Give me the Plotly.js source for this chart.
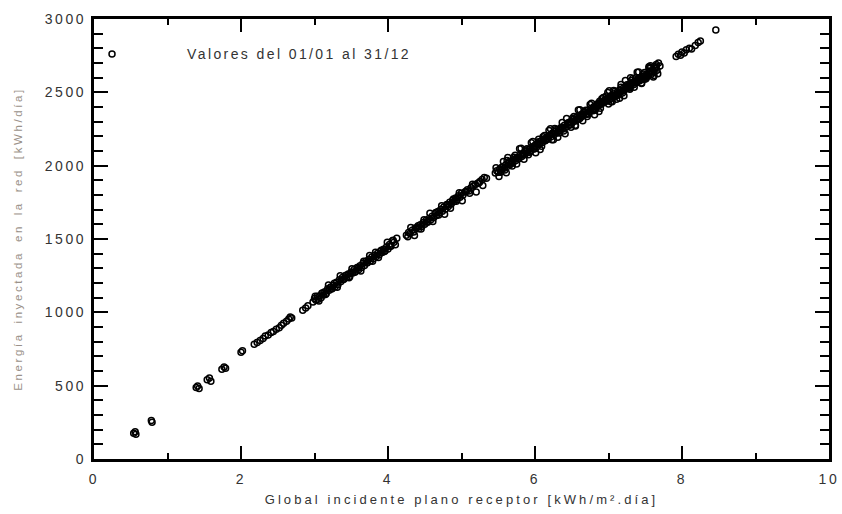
<!DOCTYPE html>
<html>
<head>
<meta charset="utf-8">
<script src="https://cdn.plot.ly/plotly-3.0.1.min.js"></script>
<style>
html,body{margin:0;padding:0;background:#fff;}
#chart{width:842px;height:514px;}
.xtick text,.ytick text{letter-spacing:2.6px;}
.g-xtitle text{letter-spacing:3.1px;}
.g-ytitle text{letter-spacing:2.6px;word-spacing:3px;}
.legendtext{letter-spacing:2.4px;transform:translateX(55px);}
.legend .scrollbox{clip-path:none !important;}
</style>
</head>
<body>
<div id="chart"></div>
<script>
// Global irradiation on receiver plane [kWh/m2.day]
const irradiation = [
0.54,0.56,0.57,0.78,0.79,
1.39,1.41,1.43,1.54,1.57,1.59,1.74,1.77,1.79,2.00,2.02,2.18,2.22,2.26,2.30,2.33,2.37,2.41,2.44,2.48,2.52,2.55,2.58,2.62,2.65,2.67,2.69,2.84,2.88,2.91,
2.98,3.00,3.02,3.04,3.05,3.07,3.09,3.10,3.12,3.14,3.16,3.18,3.20,3.22,3.24,3.26,3.28,3.30,3.32,3.34,3.36,3.38,3.40,3.42,3.44,3.46,3.48,3.50,3.52,3.54,3.56,3.58,3.60,3.62,3.64,3.66,3.68,3.70,3.72,3.74,3.76,3.78,3.80,3.82,3.84,3.86,3.88,3.90,3.92,3.94,3.96,3.98,4.00,4.02,4.04,4.06,4.08,4.12,
3.01,3.06,3.11,3.15,3.19,3.23,3.27,3.31,3.35,3.39,3.43,3.47,3.51,3.55,3.59,3.63,3.67,3.71,3.75,3.79,3.83,3.87,3.91,3.95,3.99,4.03,4.07,4.10,
4.25,4.28,4.30,4.33,4.35,4.37,4.40,4.42,4.44,4.46,4.48,4.50,4.52,4.54,4.56,4.58,4.60,4.62,4.64,4.66,4.68,4.70,4.72,4.74,4.76,4.78,4.80,4.82,4.84,4.86,4.88,4.90,4.92,4.94,4.96,4.98,5.00,5.02,5.05,5.08,5.10,5.13,5.16,5.19,5.22,5.25,5.28,5.34,
4.27,4.31,4.36,4.41,4.45,4.49,4.53,4.57,4.61,4.65,4.69,4.73,4.77,4.81,4.85,4.89,4.93,4.97,5.01,5.06,5.11,5.15,5.20,5.24,5.29,5.31,
5.46,5.48,5.50,5.52,5.54,5.56,5.58,5.60,5.62,5.64,5.66,5.68,5.70,5.72,5.74,5.76,5.78,5.80,5.82,5.84,5.86,5.88,5.90,5.92,5.94,5.96,5.98,6.00,6.02,6.04,6.06,6.08,6.10,6.12,6.14,6.16,6.18,6.20,6.22,6.24,6.26,6.28,6.30,6.32,6.34,6.36,6.38,6.40,6.42,6.44,6.46,6.48,6.50,6.52,6.54,6.56,6.58,6.60,6.62,6.64,6.66,6.68,6.70,6.72,6.74,6.76,6.78,6.80,6.82,6.84,6.86,6.88,6.90,6.92,6.94,6.96,6.98,7.00,7.02,7.04,7.06,7.08,7.10,7.12,7.14,7.16,7.18,7.20,7.22,7.24,7.26,7.28,7.30,7.32,7.34,7.36,7.38,7.40,7.42,7.44,7.46,7.48,7.50,7.52,7.54,7.56,7.58,7.60,7.62,7.64,7.66,7.68,7.70,
5.47,5.51,5.55,5.59,5.63,5.67,5.71,5.75,5.79,5.83,5.87,5.91,5.95,5.99,6.03,6.07,6.11,6.15,6.19,6.23,6.27,6.31,6.35,6.39,6.43,6.47,6.51,6.55,6.59,6.63,6.67,6.71,6.75,6.79,6.83,6.87,6.91,6.95,6.99,7.03,7.07,7.11,7.15,7.19,7.23,7.27,7.31,7.35,7.39,7.43,7.47,7.51,7.55,7.59,7.63,7.67,
5.53,5.57,5.61,5.65,5.69,5.73,5.77,5.81,5.85,5.89,5.93,5.97,6.01,6.05,6.09,6.13,6.17,6.21,6.25,6.29,6.33,6.37,6.41,6.45,6.49,6.53,6.57,6.61,6.65,6.69,6.73,6.77,6.81,6.85,6.89,6.93,6.97,7.01,7.05,7.09,7.13,7.17,7.21,7.25,7.29,7.33,7.37,7.41,7.45,7.49,7.53,7.57,7.61,7.65,
6.82,6.88,6.97,7.09,7.17,7.29,7.37,7.49,7.57,7.65,
5.62,6.05,6.55,7.00,7.30,7.15,7.45,7.62,7.55,
6.61,6.71,6.81,6.91,7.01,7.11,7.21,7.31,7.41,7.51,7.05,7.25,7.35,6.95,6.85,
7.92,7.95,7.98,8.00,8.03,8.06,8.10,8.13,8.18,8.22,8.25,
8.46
];
// Energy injected into the grid [kWh/day]
const energy = [
175,185,168,262,250,
487,498,480,540,552,530,612,628,618,728,738,782,795,808,822,838,845,862,870,884,895,912,925,940,955,968,962,1015,1030,1045,
1070,1095,1082,1110,1090,1112,1100,1130,1118,1140,1128,1160,1150,1172,1160,1185,1175,1205,1190,1222,1210,1238,1225,1250,1240,1262,1245,1275,1268,1292,1280,1305,1290,1318,1305,1335,1320,1348,1338,1362,1350,1378,1365,1390,1380,1402,1392,1418,1408,1430,1418,1445,1432,1462,1450,1488,1478,1505,
1110,1078,1131,1122,1186,1161,1199,1171,1249,1224,1252,1236,1298,1273,1301,1281,1348,1338,1388,1349,1409,1374,1423,1414,1478,1453,1491,1460,
1525,1545,1538,1560,1548,1575,1580,1570,1598,1585,1612,1600,1628,1615,1640,1630,1655,1645,1672,1660,1688,1678,1702,1690,1718,1705,1735,1722,1750,1738,1765,1755,1780,1770,1795,1785,1812,1800,1822,1835,1828,1850,1862,1872,1880,1892,1905,1915,
1516,1578,1524,1591,1569,1631,1618,1676,1620,1680,1664,1726,1668,1732,1710,1772,1758,1816,1760,1824,1812,1874,1820,1884,1865,1920,
1950,1965,1955,1978,1968,1990,1982,2005,1995,2018,2008,2030,2020,2045,2035,2058,2048,2072,2062,2085,2075,2100,2090,2112,2102,2128,2115,2140,2128,2155,2145,2168,2158,2182,2170,2195,2185,2208,2198,2222,2210,2235,2225,2248,2238,2262,2250,2275,2262,2288,2278,2300,2290,2315,2302,2328,2318,2340,2330,2352,2342,2365,2355,2378,2368,2390,2380,2402,2392,2415,2405,2428,2418,2440,2430,2452,2442,2465,2455,2478,2468,2490,2480,2502,2492,2515,2505,2528,2518,2540,2528,2552,2542,2565,2552,2578,2565,2590,2578,2600,2588,2612,2600,2625,2612,2640,2622,2655,2640,2668,2650,2700,2680,
1985,1926,1990,1971,2055,2011,2058,2012,2116,2073,2106,2074,2156,2114,2147,2110,2197,2176,2239,2176,2253,2194,2257,2237,2321,2276,2323,2276,2379,2336,2368,2336,2417,2374,2407,2370,2457,2436,2499,2436,2512,2453,2516,2496,2580,2534,2581,2534,2637,2594,2625,2593,2674,2631,2664,2626,
1955,2029,1952,2028,1998,2071,2049,2118,2044,2116,2091,2165,2088,2163,2132,2205,2182,2251,2176,2247,2222,2295,2218,2293,2262,2335,2312,2381,2306,2377,2352,2425,2348,2423,2392,2465,2442,2511,2436,2507,2482,2554,2477,2552,2521,2594,2570,2639,2564,2635,2610,2682,2605,2680,
2380,2440,2475,2470,2535,2530,2600,2590,2670,2690,
2035,2180,2270,2420,2600,2460,2560,2615,2665,
2322,2350,2385,2425,2450,2485,2515,2550,2582,2608,2470,2535,2570,2445,2410,
2745,2760,2752,2775,2768,2790,2800,2795,2820,2840,2850,
2925
];
const seriesName = 'Valores del 01/01 al 31/12';
const xTitle = 'Global incidente plano receptor [kWh/m².día]';
const yTitle = 'Energía inyectada en la red [kWh/día]';

const fontFam = '"Liberation Sans", Arial, sans-serif';

const trace = {
  x: irradiation, y: energy, type: 'scatter', mode: 'markers', name: seriesName,
  marker: {symbol: 'circle-open', size: 6, color: '#000', line: {width: 1.5, color: '#000'}}
};

const layout = {
  width: 842, height: 514,
  margin: {l: 94, r: 13, t: 19, b: 55},
  paper_bgcolor: '#fff', plot_bgcolor: '#fff',
  font: {family: fontFam, color: '#333'},
  showlegend: true,
  legend: {x: -0.0027, y: 0.956, xanchor: 'left', yanchor: 'top', bgcolor: 'rgba(0,0,0,0)',
           font: {size: 14, color: '#333', family: fontFam}, itemwidth: 30},
  xaxis: {
    range: [0, 10], dtick: 2, tick0: 0, showgrid: false, zeroline: false,
    showline: true, linewidth: 3, linecolor: '#000', mirror: 'ticks',
    ticks: 'inside', ticklen: 13, tickwidth: 2, tickcolor: '#000',
    minor: {dtick: 1, ticks: 'inside', ticklen: 6, tickwidth: 2, tickcolor: '#000', showgrid: false},
    tickfont: {size: 14, color: '#333'}, ticklabelstandoff: 5,
    title: {text: xTitle, font: {size: 13, color: '#333'}, standoff: 10}
  },
  yaxis: {
    range: [0, 3000], dtick: 500, tick0: 0, showgrid: false, zeroline: false,
    showline: true, linewidth: 3, linecolor: '#000', mirror: 'ticks',
    ticks: 'inside', ticklen: 14, tickwidth: 2, tickcolor: '#000',
    minor: {dtick: 100, ticks: 'inside', ticklen: 9, tickwidth: 2, tickcolor: '#000', showgrid: false},
    tickfont: {size: 14, color: '#333'}, ticklabelstandoff: 2,
    title: {text: yTitle, font: {size: 11.5, color: '#9a9189'}, standoff: 20}
  }
};

Plotly.newPlot('chart', [trace], layout, {displayModeBar: false, staticPlot: true});
</script>
</body>
</html>
